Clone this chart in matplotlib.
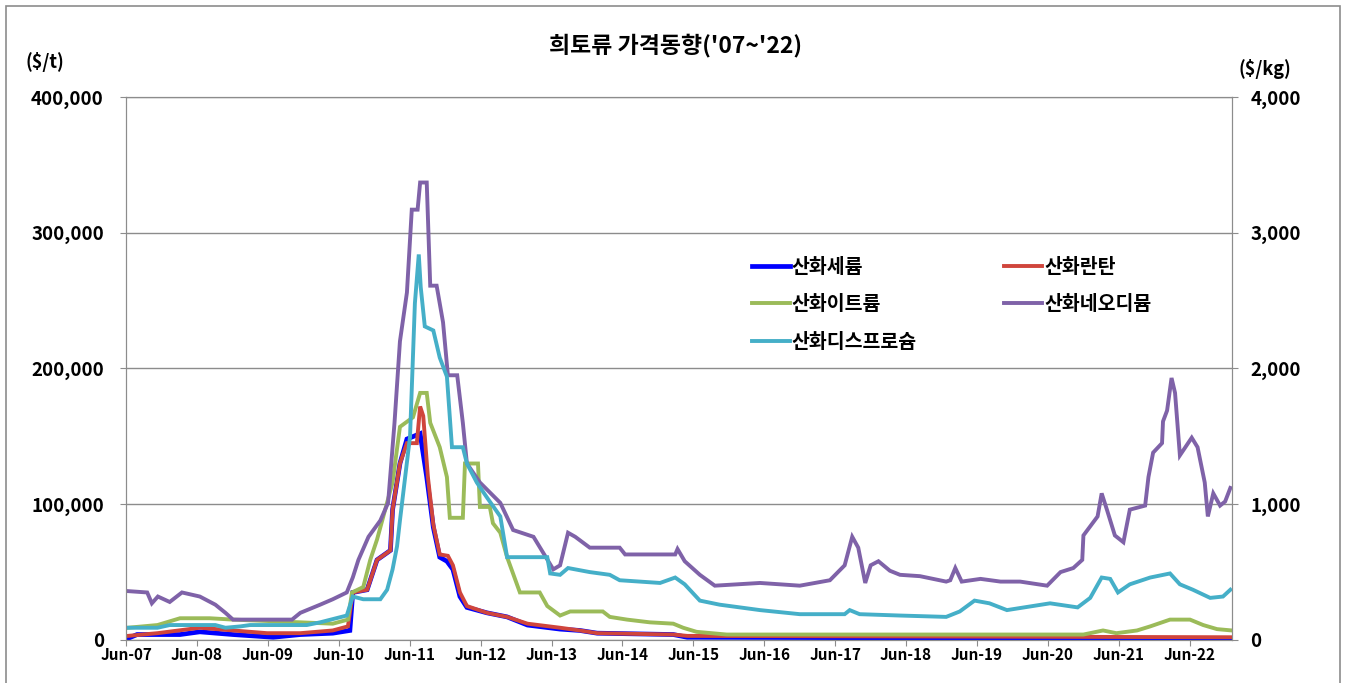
import pandas as pd
import matplotlib
matplotlib.use("Agg")
import matplotlib.pyplot as plt
import matplotlib.dates as mdates
from matplotlib.ticker import FuncFormatter
from matplotlib.patches import Rectangle

plt.rcParams['font.family'] = ['Noto Sans CJK KR', 'DejaVu Sans']

title = "희토류 가격동향('07~'22)"
names = ['산화세륨', '산화란탄', '산화이트륨', '산화네오디뮴', '산화디스프로슘']

# 산화세륨 ($/t)
ce_dates = ['2007-06-08', '2007-07-28', '2008-03-05', '2008-06-15', '2008-12-03', '2009-06-28',
            '2009-11-15', '2010-05-01', '2010-07-28', '2010-08-12', '2010-10-25', '2010-12-15',
            '2011-02-22', '2011-03-05', '2011-04-12', '2011-05-18', '2011-07-25', '2011-08-28',
            '2011-10-01', '2011-11-03', '2011-12-10', '2012-01-10', '2012-02-15', '2012-03-22',
            '2012-07-03', '2012-10-15', '2013-01-28', '2013-07-15', '2013-10-25', '2014-01-22',
            '2015-02-18', '2015-05-01', '2023-01-05']
ce_vals = [1000, 4000, 4000, 6000, 4000, 2000, 4000, 5000, 7000, 35000, 37000, 59000,
           66000, 96000, 130000, 148000, 152000, 120000, 83000, 61000, 58000, 52000, 32000, 24000,
           20000, 17000, 11000, 8000, 7000, 5000, 4000, 2000, 1000]

# 산화란탄 ($/t)
la_dates = ['2007-06-10', '2007-11-10', '2008-06-15', '2008-12-03', '2009-05-28', '2009-11-15',
            '2010-05-01', '2010-07-18', '2010-08-12', '2010-10-25', '2010-12-15', '2011-02-22',
            '2011-03-05', '2011-04-12', '2011-05-18', '2011-07-08', '2011-07-25', '2011-08-10',
            '2011-09-03', '2011-10-01', '2011-11-03', '2011-12-15', '2012-01-10', '2012-02-15',
            '2012-03-22', '2012-07-03', '2012-10-15', '2013-01-28', '2013-07-15', '2013-10-25',
            '2014-01-22', '2015-02-18', '2015-05-01', '2023-01-05']
la_vals = [3000, 5000, 9000, 7000, 5000, 5000, 7000, 10000, 35000, 37000, 59000, 66000,
           96000, 130000, 145000, 145000, 172000, 165000, 120000, 85000, 63000, 62000, 55000, 35000,
           25000, 20000, 17000, 12000, 9000, 7000, 5000, 4000, 3000, 2000]

# 산화이트륨 ($/t)
y_dates = ['2007-06-10', '2007-11-10', '2008-03-05', '2008-08-05', '2008-12-03', '2009-11-15',
           '2010-05-01', '2010-07-18', '2010-08-08', '2010-10-05', '2010-11-10', '2010-12-15',
           '2011-03-05', '2011-04-12', '2011-06-18', '2011-07-25', '2011-08-28', '2011-09-15',
           '2011-11-03', '2011-12-10', '2011-12-25', '2012-03-01', '2012-03-12', '2012-05-18',
           '2012-05-28', '2012-07-18', '2012-08-03', '2012-09-10', '2012-10-15', '2012-12-20',
           '2013-04-01', '2013-05-10', '2013-07-15', '2013-09-05', '2014-02-20', '2014-03-28',
           '2014-06-25', '2014-10-20', '2015-02-18', '2015-04-10', '2015-06-18', '2015-11-20',
           '2020-12-01', '2021-03-12', '2021-05-20', '2021-09-03', '2021-11-10', '2022-02-20',
           '2022-06-03', '2022-08-10', '2022-10-20', '2023-01-05']
y_vals = [9000, 11000, 16000, 16000, 15000, 13000, 12000, 15000, 35000, 39000, 59000, 74000,
          116000, 157000, 164000, 182000, 182000, 160000, 142000, 120000, 90000, 90000, 130000, 130000,
          98000, 98000, 86000, 79000, 61000, 35000, 35000, 25000, 18000, 21000, 21000, 17000,
          15000, 13000, 12000, 9000, 6000, 4000, 4000, 7000, 5000, 7000, 10000, 15000,
          15000, 11000, 8000, 7000]

# 산화네오디뮴 ($/t)
nd_dates = ['2007-06-10', '2007-09-18', '2007-10-12', '2007-11-12', '2008-01-12', '2008-03-15',
            '2008-06-15', '2008-09-03', '2008-10-25', '2008-12-03', '2009-10-03', '2009-11-15',
            '2010-02-25', '2010-05-01', '2010-07-12', '2010-08-12', '2010-09-10', '2010-11-01',
            '2011-01-01', '2011-02-10', '2011-03-15', '2011-04-12', '2011-05-18', '2011-06-12',
            '2011-07-12', '2011-07-25', '2011-08-28', '2011-09-15', '2011-10-18', '2011-11-20',
            '2011-12-15', '2012-02-01', '2012-03-01', '2012-03-22', '2012-05-28', '2012-09-10',
            '2012-11-15', '2013-02-28', '2013-06-10', '2013-07-15', '2013-08-25', '2013-10-01',
            '2013-12-15', '2014-05-18', '2014-06-15', '2015-02-28', '2015-03-12', '2015-04-18',
            '2015-07-05', '2015-09-20', '2016-05-10', '2016-12-01', '2017-05-05', '2017-07-20',
            '2017-08-28', '2017-09-28', '2017-11-03', '2017-12-01', '2018-01-10', '2018-03-10',
            '2018-05-01', '2018-08-12', '2018-12-25', '2019-01-15', '2019-02-10', '2019-03-15',
            '2019-06-20', '2019-10-01', '2020-01-10', '2020-05-28', '2020-08-05', '2020-10-10',
            '2020-11-25', '2020-12-01', '2021-02-12', '2021-03-05', '2021-04-01', '2021-05-12',
            '2021-06-25', '2021-07-28', '2021-10-15', '2021-11-01', '2021-11-25', '2022-01-10',
            '2022-01-15', '2022-02-05', '2022-02-28', '2022-03-18', '2022-04-12', '2022-06-12',
            '2022-07-12', '2022-08-18', '2022-09-03', '2022-10-01', '2022-11-05', '2022-12-01',
            '2022-12-28']
nd_vals = [36000, 35000, 27000, 32000, 28000, 35000, 32000, 26000, 20000, 15000, 15000, 20000,
           26000, 30000, 35000, 46000, 59000, 76000, 88000, 101000, 160000, 220000, 256000, 317000,
           317000, 337000, 337000, 261000, 261000, 234000, 195000, 195000, 160000, 130000, 116000, 101000,
           81000, 76000, 52000, 55000, 79000, 76000, 68000, 68000, 63000, 63000, 67000, 58000,
           48000, 40000, 42000, 40000, 44000, 55000, 76000, 68000, 42000, 55000, 58000, 51000,
           48000, 47000, 43000, 44000, 53000, 43000, 45000, 43000, 43000, 40000, 50000, 53000,
           59000, 77000, 91000, 108000, 96000, 77000, 72000, 96000, 99000, 120000, 138000, 145000,
           161000, 169000, 193000, 182000, 136000, 149000, 142000, 116000, 91000, 108000, 99000, 102000,
           112000]

# 산화디스프로슘 ($/kg, 보조축)
dy_dates = ['2007-06-10', '2007-11-10', '2008-01-12', '2008-09-03', '2008-10-25', '2009-01-10',
            '2009-03-01', '2009-12-18', '2010-02-25', '2010-07-12', '2010-08-12', '2010-10-05',
            '2011-01-01', '2011-02-05', '2011-03-05', '2011-03-28', '2011-04-12', '2011-06-03',
            '2011-06-28', '2011-07-18', '2011-07-28', '2011-08-18', '2011-10-01', '2011-11-03',
            '2011-12-10', '2012-01-05', '2012-03-01', '2012-03-22', '2012-05-12', '2012-07-03',
            '2012-09-10', '2012-10-15', '2013-05-10', '2013-05-25', '2013-07-15', '2013-08-25',
            '2013-12-15', '2014-03-28', '2014-05-18', '2014-12-12', '2015-02-28', '2015-04-18',
            '2015-07-05', '2015-10-15', '2016-05-10', '2016-12-01', '2017-07-20', '2017-08-15',
            '2017-10-05', '2018-05-01', '2018-12-25', '2019-03-05', '2019-05-20', '2019-08-05',
            '2019-11-03', '2020-06-12', '2020-11-01', '2021-01-05', '2021-03-05', '2021-04-18',
            '2021-05-28', '2021-07-28', '2021-11-10', '2022-02-20', '2022-04-12', '2022-06-18',
            '2022-09-15', '2022-11-20', '2022-12-28']
dy_vals = [90, 90, 110, 110, 90, 100, 110, 110, 130, 180, 320, 300,
           300, 370, 520, 690, 880, 1500, 2480, 2840, 2600, 2310, 2280, 2080,
           1940, 1420, 1420, 1300, 1160, 1050, 910, 610, 610, 490, 480, 530,
           500, 480, 440, 420, 460, 410, 290, 260, 220, 190, 190, 220,
           190, 180, 170, 210, 290, 270, 220, 270, 240, 310, 460, 450,
           350, 410, 460, 490, 410, 370, 310, 320, 370]

colors = ['#0000FF', '#D0453C', '#9BBB59', '#7F62A8', '#45AFC8']
x_ticks = pd.date_range('2007-06-01', '2022-06-01', freq='12MS')

fig = plt.figure(figsize=(13.51, 6.83), dpi=100)
ax = fig.add_axes([0.0933, 0.063, 0.8187, 0.795])
ax2 = ax.twinx()

series = [(ce_dates, ce_vals), (la_dates, la_vals), (y_dates, y_vals), (nd_dates, nd_vals)]
handles = []
for (d, v), c, n in zip(series, colors[:4], names[:4]):
    lw = 3.4 if c == '#0000FF' else 2.8
    h, = ax.plot(pd.to_datetime(d), v, color=c, lw=lw, label=n, solid_joinstyle='miter')
    handles.append(h)
h, = ax2.plot(pd.to_datetime(dy_dates), dy_vals, color=colors[4], lw=2.8, label=names[4],
              solid_joinstyle='miter')
handles.append(h)

ax.set_xlim(pd.Timestamp('2007-06-01'), pd.Timestamp('2023-01-06'))
ax.set_ylim(0, 400000)
ax2.set_ylim(0, 4000)
ax.set_yticks([0, 100000, 200000, 300000, 400000])
ax2.set_yticks([0, 1000, 2000, 3000, 4000])
ax.yaxis.set_major_formatter(FuncFormatter(lambda v, p: f'{v:,.0f}'))
ax2.yaxis.set_major_formatter(FuncFormatter(lambda v, p: f'{v:,.0f}'))
ax.set_xticks(x_ticks)
ax.xaxis.set_major_formatter(mdates.DateFormatter('%b-%y'))

ax.grid(axis='y', color='#8c8c8c', lw=1.0)
ax.set_axisbelow(True)
for a in (ax, ax2):
    for s in a.spines.values():
        s.set_color('#8c8c8c')
    a.tick_params(colors='#8c8c8c', length=4, labelcolor='black')
ax.tick_params(axis='y', labelsize=13.5, pad=12)
ax2.tick_params(axis='y', labelsize=13.5, pad=9)
ax.tick_params(axis='x', labelsize=11, pad=1)
for lab in ax.get_yticklabels() + ax2.get_yticklabels() + ax.get_xticklabels():
    lab.set_fontweight('bold')

fig.text(0.5, 0.933, title, ha='center', va='center', fontsize=16.5, fontweight='bold')
fig.text(0.019, 0.909, '(\\$/t)', ha='left', va='center', fontsize=13, fontweight='bold')
fig.text(0.956, 0.899, '(\\$/kg)', ha='right', va='center', fontsize=13, fontweight='bold')

order = [0, 2, 4, 1, 3]
fig.legend([handles[i] for i in order], [names[i] for i in order], ncol=2,
           loc='upper left', bbox_to_anchor=(0.5507, 0.634), frameon=False,
           prop={'size': 14, 'weight': 'bold'}, handlelength=1.95, handletextpad=0.1,
           columnspacing=4.5, labelspacing=0.95, borderaxespad=0)

fig.add_artist(Rectangle((0.0045, -0.02), 0.987, 1.011, transform=fig.transFigure,
                         fill=False, edgecolor='#8c8c8c', lw=1.2))

fig.savefig('out.png', dpi=100)
